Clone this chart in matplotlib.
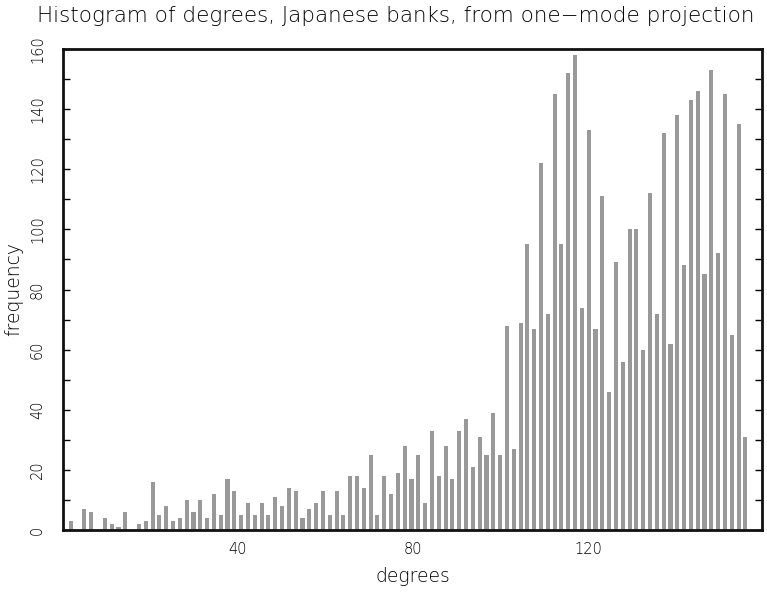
import matplotlib.pyplot as plt
import numpy as np
from matplotlib.ticker import MultipleLocator

# Frequency of each degree bin (100 bins)
counts = [
    3, 0, 7, 6, 0, 4, 2, 1, 6, 0, 2, 3, 16, 5, 8, 3, 4, 10, 6, 10,
    4, 12, 5, 17, 13, 5, 9, 5, 9, 5, 11, 8, 14, 13, 4, 7, 9, 13, 5, 13,
    5, 18, 18, 14, 25, 5, 18, 12, 19, 28, 17, 25, 9, 33, 18, 28, 17, 33, 37, 21,
    31, 25, 39, 25, 68, 27, 69, 95, 67, 122, 72, 145, 95, 152, 158, 74, 133, 67, 111, 46,
    89, 56, 100, 100, 60, 112, 72, 132, 62, 138, 88, 143, 146, 85, 153, 92, 145, 65, 135, 31,
]
deg_min, deg_max = 1.3, 156.6
xticks = [40, 80, 120]
yticks = list(range(0, 161, 20))

title = "Histogram of degrees, Japanese banks, from one\u2212mode projection"
xlabel = "degrees"
ylabel = "frequency"

edges = np.linspace(deg_min, deg_max, len(counts) + 1)
centers = (edges[:-1] + edges[1:]) / 2
binw = edges[1] - edges[0]

fig = plt.figure(figsize=(7.67, 5.95), dpi=100)
ax = fig.add_axes([63 / 767, 65 / 595, 699 / 767, 481 / 595])

ax.bar(centers, counts, width=binw * 0.6, color="#999999", linewidth=0)

ax.set_xlim(0.3, 159.6)
ax.set_ylim(0, 160)

for s in ax.spines.values():
    s.set_linewidth(2)
    s.set_color("#111111")

# thin text, close to a stroke font
txt = dict(fontweight="light", color="black")

ax.set_xticks(xticks)
ax.set_xticklabels([str(t) for t in xticks], fontsize=10.5, **txt)
ax.tick_params(axis="x", length=0, pad=9)

ax.set_yticks(yticks)
ax.set_yticklabels([str(t) for t in yticks], fontsize=10.5, rotation=90, va="center", **txt)
ax.yaxis.set_minor_locator(MultipleLocator(10))
ax.tick_params(axis="y", which="both", direction="in", length=5, width=1,
               left=True, right=True, labelright=False, pad=13)

ax.set_xlabel(xlabel, fontsize=13.5, labelpad=7, **txt)
ax.set_ylabel(ylabel, fontsize=13.5, labelpad=5, **txt)

fig.text(396 / 767, 1 - 16 / 595, title, fontsize=15.5, ha="center", va="center", **txt)

fig.savefig("out.png", dpi=100)
